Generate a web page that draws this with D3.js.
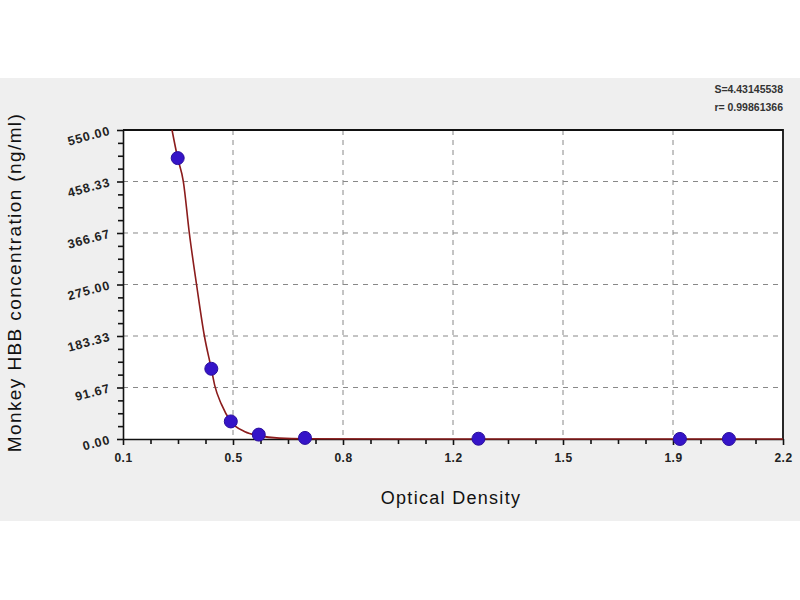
<html>
<head>
<style>
  body { margin: 0; background: #fff; }
  .tick-label { font-family: "Liberation Sans", Arial, sans-serif; font-weight: bold; font-size: 12px; fill: #222; }
  .ylab { font-size: 12.5px; letter-spacing: 0.9px; }
  .title { font-family: "Liberation Sans", Arial, sans-serif; fill: #111; }
  .stat { font-family: "Liberation Sans", Arial, sans-serif; font-weight: bold; font-size: 10.5px; fill: #333; }
  .grid { stroke: #888; stroke-width: 1; stroke-dasharray: 5,5; }
  .fit { fill: none; stroke: #8b1c1c; stroke-width: 1.6px; }
</style>
</head>
<body>
<svg width="800" height="600"></svg>

<script src="https://cdn.jsdelivr.net/npm/d3@7"></script>
<script>

// standards (optical density vs concentration)
var od   = [0.274, 0.381, 0.443, 0.532, 0.679, 1.231, 1.872, 2.028];
var conc = [500, 125, 31.25, 7.81, 1.95, 0.49, 0.12, 0];

// fitted curve
var fitOD   = [0.256, 0.274, 0.292, 0.311, 0.334, 0.359, 0.381, 0.392, 0.413, 0.443, 0.488, 0.532, 0.597, 0.679, 1.0, 1.5, 2.2];
var fitConc = [550, 500, 458.33, 366.67, 275, 183.33, 125, 95, 62, 31.25, 13, 6, 1.5, 0.4, 0.1, 0, 0];

var xTickValues = [0.1, 0.45, 0.8, 1.15, 1.5, 1.85, 2.2];
var xTickLabels = ["0.1", "0.5", "0.8", "1.2", "1.5", "1.9", "2.2"];
var yTickValues = [0, 91.67, 183.33, 275, 366.67, 458.33, 550];
var yTickLabels = ["0.00", "91.67", "183.33", "275.00", "366.67", "458.33", "550.00"];

var statLines = ["S=4.43145538", "r= 0.99861366"];

var svg = d3.select("svg"),
    margin = {top: 130, right: 17, bottom: 161, left: 123},
    width = +svg.attr("width") - margin.left - margin.right,
    height = +svg.attr("height") - margin.top - margin.bottom;

// grey panel behind the chart
svg.append("rect")
    .attr("x", 0).attr("y", 78)
    .attr("width", 800).attr("height", 443)
    .attr("fill", "#efefef");

var g = svg.append("g").attr("transform", "translate(" + margin.left + "," + margin.top + ")");

var x = d3.scaleLinear().domain([0.1, 2.2]).range([0, width]);
var y = d3.scaleLinear().domain([0, 550]).range([height, 0]);

g.append("rect")
    .attr("width", width).attr("height", height)
    .attr("fill", "#fff");

// grid lines
g.selectAll(".vgrid")
    .data(xTickValues.slice(1, -1))
  .enter().append("line")
    .attr("class", "grid")
    .attr("x1", function(d) { return x(d); })
    .attr("x2", function(d) { return x(d); })
    .attr("y1", 0).attr("y2", height);

g.selectAll(".hgrid")
    .data(yTickValues.slice(1, -1))
  .enter().append("line")
    .attr("class", "grid")
    .attr("y1", function(d) { return y(d); })
    .attr("y2", function(d) { return y(d); })
    .attr("x1", 0).attr("x2", width);

// minor ticks (4 steps between majors)
var xMinor = [], yMinor = [];
for (var i = 0; i < xTickValues.length - 1; i++)
  for (var k = 1; k < 4; k++) xMinor.push(xTickValues[i] + (xTickValues[i + 1] - xTickValues[i]) * k / 4);
for (var j = 0; j < yTickValues.length - 1; j++)
  for (var m = 1; m < 4; m++) yMinor.push(yTickValues[j] + (yTickValues[j + 1] - yTickValues[j]) * m / 4);

var xAxis = g.append("g")
    .attr("transform", "translate(0," + height + ")")
    .call(d3.axisBottom(x).tickValues(xTickValues)
      .tickFormat(function(d, i) { return xTickLabels[i]; })
      .tickSize(6).tickSizeOuter(0));
g.append("g")
    .attr("transform", "translate(0," + height + ")")
    .call(d3.axisBottom(x).tickValues(xMinor).tickFormat("").tickSize(5).tickSizeOuter(0))
    .select(".domain").remove();

var yAxis = g.append("g")
    .call(d3.axisLeft(y).tickValues(yTickValues)
      .tickFormat(function(d, i) { return yTickLabels[i]; })
      .tickSize(6).tickSizeOuter(0));
g.append("g")
    .call(d3.axisLeft(y).tickValues(yMinor).tickFormat("").tickSize(5).tickSizeOuter(0))
    .select(".domain").remove();

g.selectAll(".domain, .tick line").attr("stroke", "#111").attr("stroke-width", 1.6);

xAxis.selectAll("text")
    .attr("class", "tick-label")
    .attr("dy", "1.2em")
    .style("letter-spacing", "0.5px");

yAxis.selectAll("text")
    .attr("class", "tick-label ylab")
    .attr("x", -13)
    .attr("dy", "0.32em")
    .attr("transform", "rotate(-15,-13,0)");

// frame top/right
g.append("path")
    .attr("d", "M0,0H" + width + "V" + height)
    .attr("fill", "none")
    .attr("stroke", "#111")
    .attr("stroke-width", 1.8);

// fitted curve
g.append("defs").append("clipPath").attr("id", "clip")
  .append("rect").attr("width", width).attr("height", height + 2).attr("y", -1);

var line = d3.line()
    .curve(d3.curveMonotoneX)
    .x(function(d) { return x(d[0]); })
    .y(function(d) { return y(d[1]); });

g.append("path")
    .datum(d3.zip(fitOD, fitConc))
    .attr("class", "fit")
    .attr("clip-path", "url(#clip)")
    .attr("d", line);

// standard points
g.selectAll(".pt")
    .data(d3.zip(od, conc))
  .enter().append("circle")
    .attr("cx", function(d) { return x(d[0]); })
    .attr("cy", function(d) { return y(d[1]); })
    .attr("r", 6.5)
    .attr("fill", "#3514c8")
    .attr("stroke", "#2a0e9c")
    .attr("stroke-width", 1);

// titles
svg.append("text")
    .attr("class", "title")
    .attr("x", margin.left + width / 2 - 2)
    .attr("y", 504)
    .attr("text-anchor", "middle")
    .style("font-size", "18px")
    .style("letter-spacing", "1.3px")
    .text("Optical Density");

svg.append("text")
    .attr("class", "title")
    .attr("transform", "translate(21," + (margin.top + height / 2 - 2) + ") rotate(-90)")
    .attr("text-anchor", "middle")
    .style("font-size", "19px")
    .style("letter-spacing", "1.4px")
    .text("Monkey HBB  concentration (ng/ml)");

svg.selectAll(".stat")
    .data(statLines)
  .enter().append("text")
    .attr("class", "stat")
    .attr("x", 783)
    .attr("y", function(d, i) { return 93 + i * 18; })
    .attr("text-anchor", "end")
    .text(function(d) { return d; });

</script>
</body>
</html>
